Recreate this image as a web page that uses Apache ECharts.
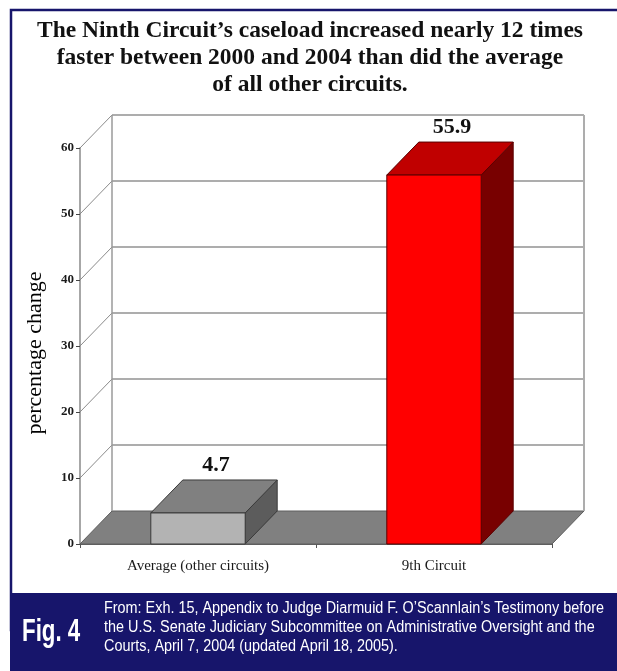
<!DOCTYPE html>
<html>
<head>
<meta charset="utf-8">
<script src="https://cdn.jsdelivr.net/npm/echarts@6/dist/echarts.min.js"></script>
<style>
  html, body { margin: 0; padding: 0; background: #ffffff; }
  #chart { width: 617px; height: 671px; }
</style>
</head>
<body>
<div id="chart"></div>
<script>
// Caseload growth, 2000-2004 (percentage change)
const categories = ['Average (other circuits)', '9th Circuit'];
const values = [4.7, 55.9];
const yTicks = [0, 10, 20, 30, 40, 50, 60];

const titleLines = [
  'The Ninth Circuit\u2019s caseload increased nearly 12 times',
  'faster between 2000 and 2004 than did the average',
  'of all other circuits.'
];
const yAxisName = 'percentage change';
const figLabel = 'Fig. 4';
const sourceLines = [
  'From: Exh. 15, Appendix to Judge Diarmuid F. O\u2019Scannlain\u2019s Testimony before',
  'the U.S. Senate Judiciary Subcommittee on Administrative Oversight and the',
  'Courts, April 7, 2004 (updated April 18, 2005).'
];

// 3-D look: offset of the back plane from the front plane, in pixels
const DX = 32, DY = -33;
const NAVY = '#17156b';
const SERIF = '"Liberation Serif", "Times New Roman", serif';
const SANS = '"Liberation Sans", Arial, sans-serif';

const barColors = [
  { front: '#b3b3b3', top: '#808080', side: '#5c5c5c', edge: '#3a3a3a' },
  { front: '#ff0000', top: '#c00000', side: '#780000', edge: '#5a0000' }
];

const chart = echarts.init(document.getElementById('chart'), null, { renderer: 'canvas' });

// back wall, side-wall gridlines and floor
function renderWall(params, api) {
  const cs = params.coordSys;
  const v = api.value(1);
  const y = api.coord([0, v])[1];
  const xl = cs.x, xr = cs.x + cs.width;
  const children = [];
  if (v === yTicks[0]) {
    children.push({
      type: 'polygon',
      shape: { points: [[xl, y], [xr, y], [xr + DX, y + DY], [xl + DX, y + DY]] },
      style: { fill: '#808080', stroke: '#5e5e5e', lineWidth: 1 }
    });
  } else {
    children.push({
      type: 'line',
      shape: { x1: xl + DX, y1: y + DY, x2: xr + DX, y2: y + DY },
      style: { stroke: '#adadad', lineWidth: 2 }
    });
    children.push({
      type: 'line',
      shape: { x1: xl, y1: y, x2: xl + DX, y2: y + DY },
      style: { stroke: '#8a8a8a', lineWidth: 1 }
    });
  }
  if (v === yTicks[yTicks.length - 1]) {
    const yb = cs.y + cs.height + DY;
    children.push({
      type: 'line',
      shape: { x1: xl + DX, y1: y + DY, x2: xl + DX, y2: yb },
      style: { stroke: '#9a9a9a', lineWidth: 1.5 }
    });
    children.push({
      type: 'line',
      shape: { x1: xr + DX, y1: y + DY, x2: xr + DX, y2: yb },
      style: { stroke: '#adadad', lineWidth: 2 }
    });
  }
  return { type: 'group', children: children };
}

// one 3-D block per category
function renderBar(params, api) {
  const idx = api.value(0);
  const v = api.value(1);
  const base = api.coord([idx, 0]);
  const top = api.coord([idx, v]);
  const w = api.size([1, 0])[0] * 0.4;
  const l = base[0] - w / 2, r = base[0] + w / 2;
  const yt = top[1], yb = base[1];
  const c = barColors[params.dataIndex];
  return {
    type: 'group',
    children: [
      {
        type: 'polygon',
        shape: { points: [[r, yt], [r + DX, yt + DY], [r + DX, yb + DY], [r, yb]] },
        style: { fill: c.side, stroke: c.edge, lineWidth: 1 }
      },
      {
        type: 'polygon',
        shape: { points: [[l, yt], [r, yt], [r + DX, yt + DY], [l + DX, yt + DY]] },
        style: { fill: c.top, stroke: c.edge, lineWidth: 1 }
      },
      {
        type: 'rect',
        shape: { x: l, y: yt, width: w, height: yb - yt },
        style: { fill: c.front, stroke: c.edge, lineWidth: 1 }
      },
      {
        type: 'text',
        x: (l + r) / 2 + DX / 2 + 2,
        y: yt + DY - 4,
        style: {
          text: String(v),
          font: 'bold 22px ' + SERIF,
          fill: '#111',
          textAlign: 'center',
          textVerticalAlign: 'bottom'
        }
      }
    ]
  };
}

const graphics = [
  // frame
  {
    type: 'rect', z: 0,
    shape: { x: 11, y: 10, width: 640, height: 620 },
    style: { fill: 'none', stroke: NAVY, lineWidth: 2.5 }
  },
  // caption band
  {
    type: 'rect', z: 10,
    shape: { x: 10, y: 593, width: 607, height: 78 },
    style: { fill: NAVY }
  },
  {
    type: 'text', z: 11, x: 22, y: 632, scaleX: 0.72,
    style: { text: figLabel, font: 'bold 31px ' + SANS, fill: '#ffffff', textAlign: 'left', textVerticalAlign: 'middle' }
  },
  {
    type: 'text', z: 11, x: 35, y: 353, rotation: Math.PI / 2,
    style: { text: yAxisName, font: '22px ' + SERIF, fill: '#000', textAlign: 'center', textVerticalAlign: 'middle' }
  }
];
titleLines.forEach(function (line, i) {
  graphics.push({
    type: 'text', z: 11, x: 310, y: 31 + i * 27,
    style: { text: line, font: 'bold 23.5px ' + SERIF, fill: '#111', textAlign: 'center', textVerticalAlign: 'middle' }
  });
});
sourceLines.forEach(function (line, i) {
  graphics.push({
    type: 'text', z: 11, x: 104, y: 609 + i * 19, scaleX: 0.9,
    style: { text: line, font: '16px ' + SANS, fill: '#ffffff', textAlign: 'left', textVerticalAlign: 'middle' }
  });
});

chart.setOption({
  animation: false,
  backgroundColor: '#ffffff',
  grid: { left: 80, top: 148, width: 472, height: 396, containLabel: false },
  xAxis: {
    type: 'category',
    data: categories,
    boundaryGap: true,
    axisLine: { show: true, lineStyle: { color: '#5e5e5e', width: 1 } },
    axisTick: { show: true, length: 4, lineStyle: { color: '#555' } },
    axisLabel: { fontFamily: SERIF, fontSize: 15, color: '#1a1a1a', margin: 15 },
    splitLine: { show: false }
  },
  yAxis: {
    type: 'value',
    min: 0, max: 60, interval: 10,
    axisLine: { show: true, lineStyle: { color: '#8a8a8a', width: 1.5 } },
    axisTick: { show: true, length: 4, lineStyle: { color: '#444' } },
    axisLabel: { fontFamily: SERIF, fontSize: 13, fontWeight: 'bold', color: '#1a1a1a', margin: 6 },
    splitLine: { show: false }
  },
  graphic: graphics,
  series: [
    {
      type: 'custom', name: 'wall', z: 1, silent: true, clip: false,
      renderItem: renderWall,
      data: yTicks.map(function (t) { return [0, t]; })
    },
    {
      type: 'custom', name: 'caseload', z: 3, silent: true, clip: false,
      renderItem: renderBar,
      data: values.map(function (v, i) { return [i, v]; })
    }
  ]
});
</script>
</body>
</html>
